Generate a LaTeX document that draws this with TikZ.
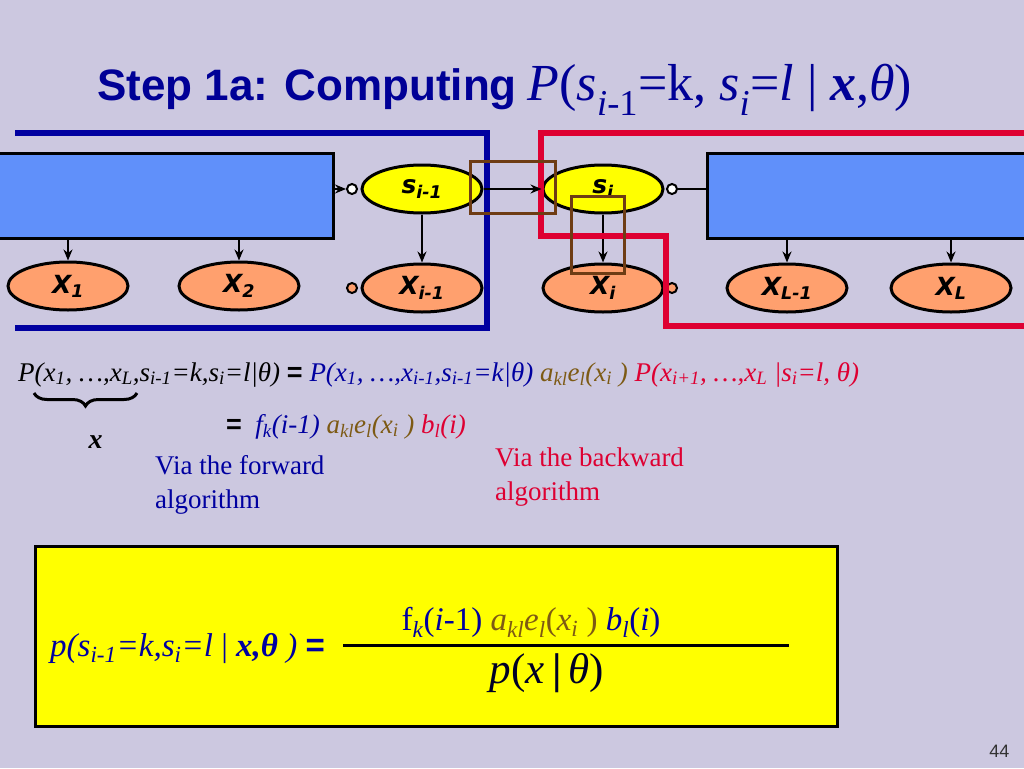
\documentclass[tikz,border=0pt]{standalone}
\usepackage{fontspec}
\setmainfont{Liberation Serif}
\setsansfont{Liberation Sans}
\newfontfamily\verd{DejaVu Sans}
\definecolor{mybg}{RGB}{204,200,224}
\definecolor{myblue}{RGB}{96,144,250}
\definecolor{mynavy}{RGB}{0,0,160}
\definecolor{mytitle}{RGB}{0,0,150}
\definecolor{myred}{RGB}{222,0,50}
\definecolor{mybrown}{RGB}{110,60,20}
\definecolor{myolive}{RGB}{125,90,20}
\definecolor{myorange}{RGB}{255,160,110}
\definecolor{myyellow}{RGB}{255,255,0}
\usetikzlibrary{positioning, arrows.meta, calc, shapes, decorations.pathreplacing}
\tikzset{
    hidden/.style={
           ellipse,
           draw=black, line width=3pt,
           fill=myyellow,
           minimum width=120pt, minimum height=48pt,
           inner sep=0pt,
           font=\verd\bfseries\itshape\fontsize{25}{27}\selectfont,
           },
    obs/.style={hidden, fill=myorange},
    chain/.style={rectangle, draw=black, line width=3pt, fill=myblue, minimum height=85pt},
    dot/.style={circle, draw=black, line width=2pt, fill=white, minimum size=10pt, inner sep=0pt},
    odot/.style={dot, fill=myorange},
    fwd/.style={draw=mynavy, line width=6pt},
    bwd/.style={draw=myred, line width=6pt},
    focus/.style={draw=mybrown, line width=3pt},
    formula/.style={anchor=base west, inner sep=0pt, font=\fontsize{27}{30}\selectfont},
    note/.style={anchor=base west, inner sep=0pt, align=left, font=\fontsize{27}{34}\selectfont},
    arr/.style={-{Stealth[length=11pt, width=9pt]}, line width=1.8pt},
}
\newcommand{\sub}[1]{\textsubscript{#1}}
\newcommand{\mi}[1]{\textit{#1}}
\newcommand{\eq}{{\sffamily\bfseries\upshape =}}

\begin{document}
\begin{tikzpicture}[x=1pt, y=1pt]
  \path[use as bounding box, fill=mybg] (0,0) rectangle (1024,-768);
  % title
  \node[anchor=base west, text=mytitle, font=\fontsize{44}{48}\selectfont, inner sep=0pt] (T) at (97,-100)
       {{\sffamily\bfseries Step 1a: Computing} {\fontsize{52}{56}\selectfont\mi{P}(\mi{s}\sub{\mi{i}-1}=k, \mi{s}\sub{\mi{i}}=\mi{l} | \textbf{\mi{x}},\mi{θ})}};
  % chain
  \node[chain, minimum width=340pt]  (L)  at (163,-195.5) {};
  \node[chain, minimum width=330pt]  (R)  at (872,-195.5) {};
  \node[hidden]                      (S1) at (422,-189) {s\sub{i-1}};
  \node[hidden]                      (S2) at (603,-189) {s\sub{i}};
  \node[obs]                         (X1) at (68,-286)  {X\sub{1}};
  \node[obs]                         (X2) at (239,-286) {X\sub{2}};
  \node[obs]                         (X3) at (422,-288) {X\sub{i-1}};
  \node[obs]                         (X4) at (603,-288) {X\sub{i}};
  \node[obs]                         (X5) at (787,-288) {X\sub{L-1}};
  \node[obs]                         (X6) at (951,-288) {X\sub{L}};
  \node[dot]                         (D1) at (352,-189) {};
  \node[odot]                        (D2) at (352,-288) {};
  \node[dot]                         (D3) at (672,-189) {};
  \node[odot]                        (D4) at (672,-288) {};
  \draw[arr] (L.south -| X1) -- (X1);
  \draw[arr] (L.south -| X2) -- (X2);
  \draw[arr] (L.east |- D1)  -- (D1);
  \draw[arr] (S1) -- (X3);
  \draw[arr] (S2) -- (X4);
  \draw[line width=1.8pt] (D3) -- (D3 -| R.west);
  \draw[arr] (R.south -| X5) -- (X5);
  \draw[arr] (R.south -| X6) -- (X6);
  % forward / backward parts
  \draw[fwd] (15,-133) -- (487,-133) -- (487,-328) -- (15,-328);
  \draw[bwd] (1030,-133) -- (541,-133) -- (541,-236) -- (666,-236) -- (666,-326) -- (1030,-326);
  \draw[arr] (S1) -- (S2);
  \draw[focus] (470,-161) rectangle (555,-213);
  \draw[focus] (571,-196) rectangle (624,-273);
  % decomposition
  \node[formula] (F1) at (18,-381)
       {\itshape P(x\sub{1}, …,x\sub{L},s\sub{i-1}=k,s\sub{i}=l|θ) \eq{}
        \color{mynavy}P(x\sub{1}, …,x\sub{i-1},s\sub{i-1}=k|θ)
        \color{myolive}a\sub{kl}e\sub{l}(x\sub{i} )
        \color{myred}P(x\sub{i+1}, …,x\sub{L} |s\sub{i}=l, θ)};
  \node[formula] (F2) at (226,-433)
       {\itshape \eq{}\ \ \color{mynavy}f\sub{k}(i-1)
        \color{myolive}a\sub{kl}e\sub{l}(x\sub{i} )
        \color{myred}b\sub{l}(i)};
  \coordinate (B1) at (34,-393);
  \coordinate (B2) at (137,-393);
  \draw[decorate, decoration={brace, mirror, amplitude=13pt}, line width=3pt] (B1) -- (B2);
  \node[formula, anchor=base, font=\fontsize{28}{30}\selectfont] (BX) at ($(B1)!0.5!(B2)+(10,-55)$) {\textbf{\mi{x}}};
  \node[note, text=mynavy] (N1) at (155,-508) {Via the forward\\algorithm};
  \node[note, text=myred]  (N2) at (495,-500) {Via the backward\\algorithm};
  % result
  \node[rectangle, draw=black, line width=3pt, fill=myyellow, minimum width=802pt, minimum height=180pt] (Y) at (436,-636) {};
  \node[formula, text=mynavy, font=\fontsize{33}{35}\selectfont] (P1) at (50,-656)
       {\itshape p(s\sub{i-1}=k,s\sub{i}=l {\upshape|} \textbf{x,θ} ) \eq};
  \coordinate (Q1) at (343,-645);
  \coordinate (Q2) at (789,-645);
  \draw[line width=3pt] (Q1) -- (Q2);
  \node[anchor=base, font=\fontsize{33}{35}\selectfont, text=mynavy] (P2) at (531,-630)
       {f\sub{\mi{k}}(\mi{i}-1) \color{myolive}\mi{a\sub{kl}e\sub{l}}(\mi{x\sub{i}} )
        \color{mynavy}\mi{b\sub{l}}(\mi{i})};
  \node[anchor=base, font=\fontsize{43}{45}\selectfont, text=black!85!blue] (P3) at (547,-683)
       {\mi{p}(\mi{x}\,{\bfseries|}\,\mi{θ})};
  \node[anchor=base east, font=\sffamily\fontsize{18}{20}\selectfont, text=black!80] (PG) at (1013,-757) {44};
\end{tikzpicture}
\end{document}
